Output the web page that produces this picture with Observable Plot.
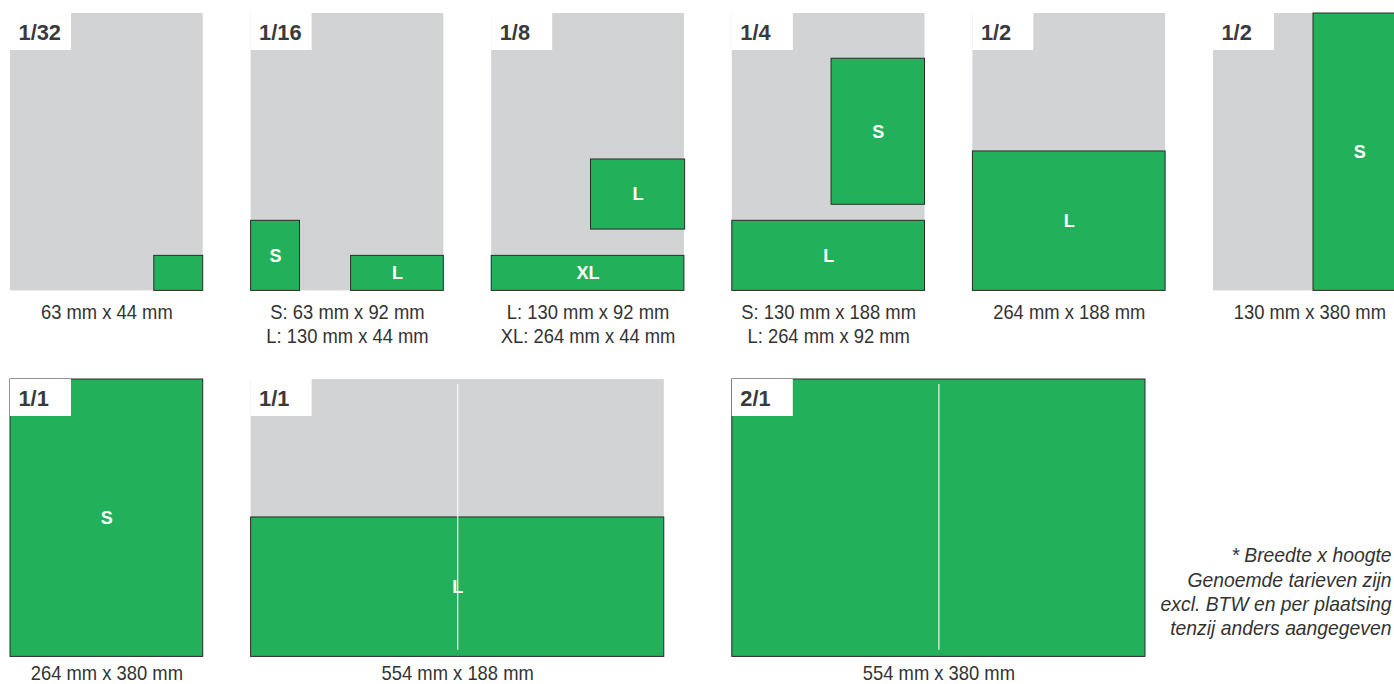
<!DOCTYPE html>
<html>
<head>
<meta charset="utf-8">
<script src="https://cdn.jsdelivr.net/npm/d3@7"></script>
<script src="https://cdn.jsdelivr.net/npm/@observablehq/plot@0.6"></script>
<style>
  html, body { margin: 0; padding: 0; background: #fff; overflow: hidden; }
  #chart svg { display: block; overflow: hidden; }
</style>
</head>
<body>
<div id="chart"></div>
<script>
// ---------- DATA (page-diagram units ≈ mm, origin at the page's top-left) ----------
const panelNames   = ["1/32", "1/16", "1/8", "1/4", "1/2", "1/2", "1/1", "1/1", "2/1"];
const panelWidths  = [264, 264, 264, 264, 264, 264, 264, 566, 566];
const panelHeights = [380, 380, 380, 380, 380, 380, 380, 380, 380];
const panelCaptions = [
  ["63 mm x 44 mm"],
  ["S: 63 mm x 92 mm", "L: 130 mm x 44 mm"],
  ["L: 130 mm x 92 mm", "XL: 264 mm x 44 mm"],
  ["S: 130 mm x 188 mm", "L: 264 mm x 92 mm"],
  ["264 mm x 188 mm"],
  ["130 mm x 380 mm"],
  ["264 mm x 380 mm"],
  ["554 mm x 188 mm"],
  ["554 mm x 380 mm"]
];

// advertisement blocks (panel index, label, x, y, width, height)
const adPanel  = [0,   1,   1,   2,   2,    3,   3,   4,   5,   6,   7,   8];
const adLabel  = ["",  "S", "L", "L", "XL", "S", "L", "L", "S", "S", "L", ""];
const adX      = [197, 0,   137, 136, 0,    136, 0,   0,   137, 0,   0,   0];
const adY      = [332, 284, 332, 200, 332,  62,  284, 189, 0,   0,   189, 0];
const adW      = [67,  67,  127, 129, 264,  128, 264, 264, 127, 264, 566, 566];
const adH      = [48,  96,  48,  96,  48,   200, 96,  191, 380, 380, 191, 380];

// spread folds (panel index, x of fold, y range)
const foldPanel = [7, 8];
const foldX     = [283, 283];
const foldY1    = [7, 7];
const foldY2    = [371, 371];

const footnote = [
  "* Breedte x hoogte",
  "Genoemde tarieven zijn",
  "excl. BTW en per plaatsing",
  "tenzij anders aangegeven"
];

// ---------- LAYOUT ----------
const W = 1394, H = 684;
const K = 0.73;                    // px per unit
const slotCol = [0, 1, 2, 3, 4, 5, 0, 1, 3];
const slotRow = [0, 0, 0, 0, 0, 0, 1, 1, 1];
const u = px => px / K;
const pLeft = i => u(10 + slotCol[i] * 240.6);
const pTop  = i => u(slotRow[i] ? 379 : 13);

const GREEN = "#22b15a", GREY = "#d1d3d4", INK = "#333333";
const FONT = "'Liberation Sans', Arial, Helvetica, sans-serif";

const pages = panelNames.map((name, i) => ({
  name, i,
  x1: pLeft(i), x2: pLeft(i) + panelWidths[i],
  y1: pTop(i),  y2: pTop(i) + panelHeights[i]
}));

const ads = adPanel.map((p, j) => ({
  label: adLabel[j],
  x1: pLeft(p) + adX[j], x2: pLeft(p) + adX[j] + adW[j],
  y1: pTop(p) + adY[j],  y2: pTop(p) + adY[j] + adH[j]
}));

const folds = foldPanel.map((p, j) => ({
  x: pLeft(p) + foldX[j], y1: pTop(p) + foldY1[j], y2: pTop(p) + foldY2[j]
}));

const tabs = pages.map(p => ({
  name: p.name,
  x1: p.x1, x2: p.x1 + u(61), y1: p.y1, y2: p.y1 + u(37)
}));

const captions = [];
pages.forEach((p, i) => {
  const off = slotRow[i] ? 16 : 21;
  panelCaptions[i].forEach((t, k) => {
    captions.push({ text: t, x: (p.x1 + p.x2) / 2, y: p.y2 + u(off + k * 24.5) });
  });
});

const notes = footnote.map((t, k) => ({ text: t, x: u(1391), y: u(555 + k * 24.3) }));

const chart = Plot.plot({
  width: W, height: H,
  margin: 0,
  x: { domain: [0, u(W)], range: [0, W], axis: null },
  y: { domain: [0, u(H)], range: [0, H], axis: null },
  style: { fontFamily: FONT, background: "#fff", overflow: "hidden" },
  marks: [
    Plot.rect(pages, { x1: "x1", x2: "x2", y1: "y1", y2: "y2", fill: GREY }),
    Plot.rect(ads, { x1: "x1", x2: "x2", y1: "y1", y2: "y2", fill: GREEN, stroke: "#2a2a2a", strokeWidth: 1 }),
    Plot.ruleX(folds, { x: "x", y1: "y1", y2: "y2", stroke: "#ffffff", strokeWidth: 1.3, strokeOpacity: 0.85 }),
    Plot.text(ads.filter(d => d.label), {
      x: d => (d.x1 + d.x2) / 2, y: d => (d.y1 + d.y2) / 2, text: "label",
      fill: "#ffffff", fontSize: 18, fontWeight: "bold"
    }),
    Plot.rect(tabs, { x1: "x1", x2: "x2", y1: "y1", y2: "y2", fill: "#ffffff" }),
    Plot.text(tabs, {
      x: d => d.x1 + u(8), y: d => d.y1 + u(19), text: "name",
      textAnchor: "start", fill: "#3a3a3a", fontSize: 22.5, fontWeight: "bold"
    }),
    Plot.text(captions, { x: "x", y: "y", text: "text", fill: INK, fontSize: 21 }),
    Plot.text(notes, { x: "x", y: "y", text: "text", textAnchor: "end", fill: INK, fontSize: 21, fontStyle: "italic" })
  ]
});
document.getElementById("chart").appendChild(chart);

// condensed look: compress glyphs horizontally (picked by text content)
function condense(strings, c) {
  const set = new Set(strings);
  d3.select(chart).selectAll("text").each(function () {
    if (!set.has(this.textContent)) return;
    const len = this.getComputedTextLength();
    this.setAttribute("textLength", (len * c).toFixed(1));
    this.setAttribute("lengthAdjust", "spacingAndGlyphs");
  });
}
condense(captions.map(d => d.text), 0.875);
condense(footnote, 0.92);
condense(panelNames, 0.97);
</script>
</body>
</html>
